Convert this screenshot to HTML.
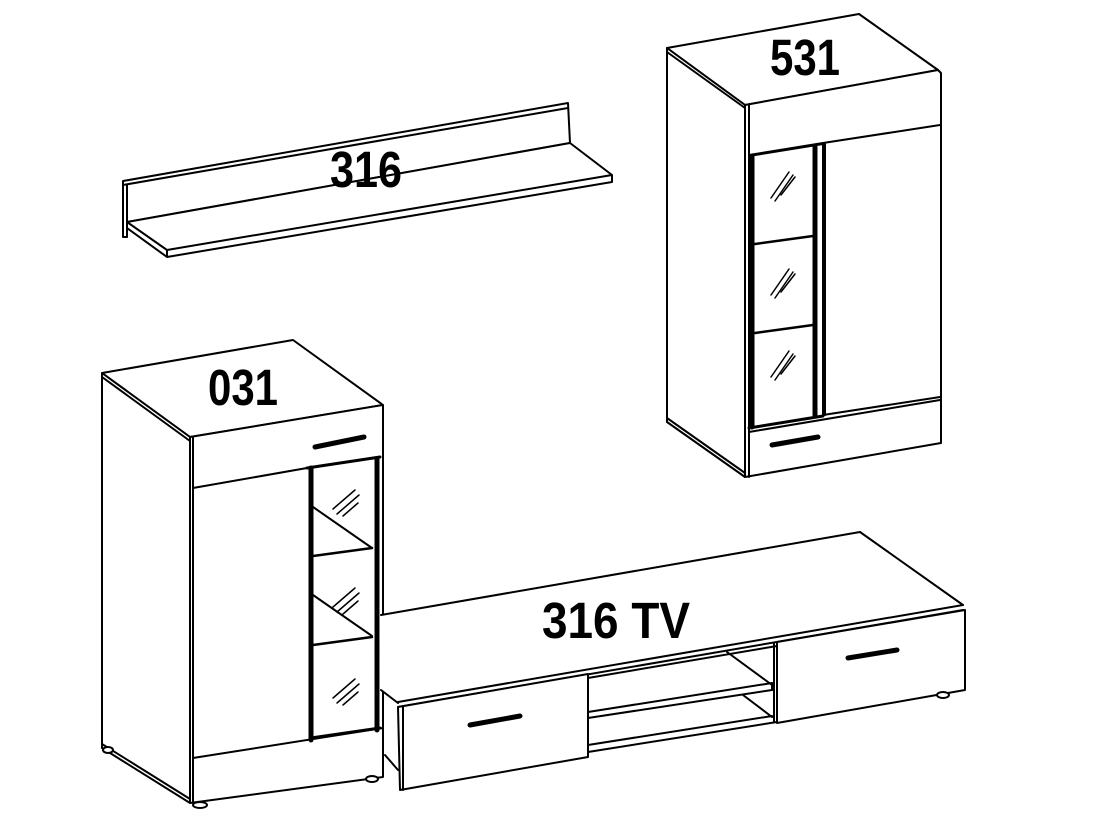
<!DOCTYPE html>
<html><head><meta charset="utf-8"><style>
html,body{margin:0;padding:0;background:#fff;}
svg{display:block;}
text{font-family:"Liberation Sans",sans-serif;font-weight:bold;fill:#000;}
</style></head><body>
<svg width="1112" height="834" viewBox="0 0 1112 834" xmlns="http://www.w3.org/2000/svg" fill="none" stroke="#000" stroke-width="2" stroke-linejoin="round" stroke-linecap="round">
<!-- Shelf 316 -->
<g>
<polygon points="123,181 568,103 570,143 127,222 127,237 123,237" fill="#fff"/>
<line x1="123" y1="185" x2="568" y2="108"/>
<line x1="127" y1="185" x2="127" y2="237"/>
<polygon points="127,222 570,143 612,175 612,182 167,257 167,250" fill="#fff"/>
<line x1="167" y1="250" x2="612" y2="175"/>
<line x1="127" y1="222" x2="127" y2="228"/>
<line x1="127" y1="228" x2="167" y2="257"/>
</g>
<text x="330" y="187" font-size="51" textLength="72" lengthAdjust="spacingAndGlyphs" stroke="none">316</text>

<!-- Cabinet 531 -->
<g>
<polygon points="667,48 859,14 938,70 745,105" fill="#fff"/>
<polygon points="667,48 745,105 745,477 667,422" fill="#fff"/>
<line x1="667" y1="52" x2="745" y2="108"/>
<line x1="667" y1="418" x2="745" y2="473"/>
<polygon points="745,105 938,70 941,73 941,443 745,477" fill="#fff"/>
<line x1="749" y1="105" x2="749" y2="477"/>
<line x1="749" y1="155" x2="823" y2="143"/>
<line x1="823" y1="143" x2="940" y2="125"/>
<polygon points="749,156 823,144 823,416 749,428" fill="#fff"/>
<line x1="752" y1="157" x2="752" y2="427" stroke-width="5"/>
<line x1="815" y1="147" x2="815" y2="417" stroke-width="5" stroke-dasharray="2 1"/>
<line x1="825" y1="143" x2="825" y2="415"/>
<line x1="755" y1="244" x2="813" y2="236" stroke-width="2.5"/>
<line x1="755" y1="333" x2="813" y2="325" stroke-width="2.5"/>
<line x1="749" y1="428" x2="823" y2="416" stroke-width="3"/>
<g stroke-width="1.5">
<line x1="771" y1="198" x2="789" y2="172"/><line x1="775" y1="201" x2="793" y2="175"/><line x1="781" y1="195" x2="795" y2="177"/>
<line x1="771" y1="295" x2="789" y2="269"/><line x1="775" y1="298" x2="793" y2="272"/><line x1="781" y1="292" x2="795" y2="274"/>
<line x1="771" y1="377" x2="789" y2="351"/><line x1="775" y1="380" x2="793" y2="354"/><line x1="781" y1="374" x2="795" y2="356"/>
</g>
<line x1="823" y1="415" x2="940" y2="397"/>
<line x1="749" y1="432" x2="940" y2="400"/>
<line x1="772" y1="445" x2="818" y2="437" stroke-width="5"/>
</g>
<text x="770" y="75" font-size="51" textLength="70" lengthAdjust="spacingAndGlyphs" stroke="none">531</text>

<!-- Cabinet 031 -->
<g>
<polygon points="102,373 293,340 383,405 190,437" fill="#fff"/>
<polygon points="102,373 190,437 190,803 102,748" fill="#fff"/>
<line x1="102" y1="377" x2="190" y2="441"/>
<line x1="102" y1="744" x2="190" y2="799"/>
<polygon points="190,437 383,405 383,777 190,803" fill="#fff"/>
<line x1="193" y1="437" x2="193" y2="803"/>
<line x1="193" y1="488" x2="307" y2="468"/>
<line x1="315" y1="447" x2="364" y2="437" stroke-width="5"/>
<line x1="307" y1="468" x2="380" y2="457" stroke-width="3"/>
<line x1="311" y1="468" x2="311" y2="740" stroke-width="5"/>
<line x1="377" y1="459" x2="377" y2="730" stroke-width="5" stroke-dasharray="2 1"/>
<line x1="313" y1="507" x2="372" y2="548"/>
<line x1="313" y1="556" x2="372" y2="548" stroke-width="2.5"/>
<line x1="313" y1="595" x2="372" y2="636"/>
<line x1="313" y1="645" x2="372" y2="637" stroke-width="2.5"/>
<line x1="311" y1="738" x2="380" y2="728" stroke-width="3"/>
<g stroke-width="1.5">
<line x1="333" y1="509" x2="355" y2="490"/><line x1="337" y1="514" x2="359" y2="495"/><line x1="343" y1="516" x2="358" y2="503"/>
<line x1="333" y1="607" x2="355" y2="588"/><line x1="337" y1="612" x2="359" y2="593"/><line x1="343" y1="614" x2="358" y2="601"/>
<line x1="333" y1="698" x2="355" y2="679"/><line x1="337" y1="703" x2="359" y2="684"/><line x1="343" y1="705" x2="358" y2="692"/>
</g>
<line x1="193" y1="758" x2="383" y2="728"/>
<ellipse cx="200" cy="805" rx="7" ry="3" fill="#fff"/>
<ellipse cx="372" cy="779" rx="6" ry="3" fill="#fff"/>
<ellipse cx="108" cy="750" rx="5" ry="3" fill="#fff"/>
</g>
<text x="208" y="405" font-size="51" textLength="70" lengthAdjust="spacingAndGlyphs" stroke="none">031</text>

<!-- TV unit -->
<g>
<polygon points="381,615 860,532 963,605 398,702 381,690" fill="#fff" stroke="none"/>
<line x1="381" y1="615" x2="860" y2="532"/>
<line x1="860" y1="532" x2="963" y2="605"/>
<line x1="381" y1="690" x2="398" y2="703"/>
<line x1="385" y1="755" x2="398" y2="770"/>
<line x1="398" y1="702" x2="963" y2="605"/>
<line x1="398" y1="707" x2="963" y2="610"/>
<polygon points="398,707 588,674 588,757 400,790" fill="#fff"/>
<line x1="403" y1="707" x2="403" y2="790"/>
<line x1="470" y1="725" x2="520" y2="716" stroke-width="5"/>
<line x1="588" y1="678" x2="777" y2="646"/>
<line x1="727" y1="652" x2="772" y2="685"/>
<line x1="588" y1="712" x2="772" y2="683"/>
<line x1="588" y1="718" x2="772" y2="690"/>
<line x1="772" y1="683" x2="772" y2="690"/>
<line x1="743" y1="695" x2="772" y2="717"/>
<line x1="588" y1="745" x2="772" y2="716"/>
<line x1="588" y1="752" x2="777" y2="722"/>
<polygon points="777,642 965,610 965,690 777,723" fill="#fff"/>
<line x1="774" y1="643" x2="774" y2="722"/>
<line x1="848" y1="658" x2="897" y2="650" stroke-width="5"/>
<ellipse cx="943" cy="695" rx="6" ry="3" fill="#fff"/>
</g>
<text x="542" y="638" font-size="51" textLength="148" lengthAdjust="spacingAndGlyphs" stroke="none">316 TV</text>
</svg>
</body></html>
